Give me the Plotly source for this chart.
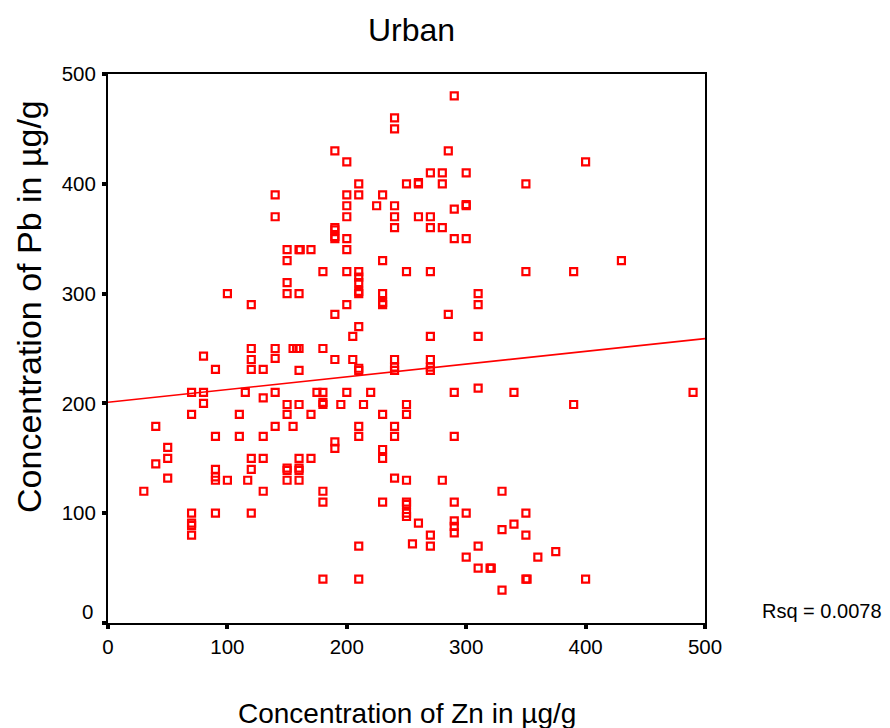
import plotly.graph_objects as go

# Data (Zn, Pb) in µg/g
zn = [290, 240, 240, 190, 285, 200, 400, 210, 250, 260, 260, 270, 280, 280, 300, 350,
      140, 200, 210, 230, 200, 225, 240, 290, 300, 300, 140, 200, 240, 260, 270,
      190, 190, 240, 270, 280, 190, 190, 200, 290, 300, 150, 160, 161, 170, 200,
      150, 230, 430, 180, 200, 210, 210, 210, 210, 210, 250, 270, 350, 390,
      150, 150, 160, 230, 310, 100, 120, 200, 230, 230, 310, 190, 285, 210, 205,
      270, 310, 120, 140, 155, 158, 160, 180, 80, 120, 140, 190, 205, 240, 270,
      90, 120, 130, 160, 210, 210, 240, 240, 270, 270,
      70, 80, 115, 140, 175, 180, 200, 220, 290, 310, 340, 490, 130, 80,
      150, 160, 180, 180, 195, 214, 250, 390, 70, 110, 150, 170, 230, 250,
      40, 140, 155, 210, 240, 90, 110, 130, 210, 240, 290, 190, 190, 50, 230,
      50, 230, 120, 130, 160, 170, 40, 90, 120, 150, 150, 160, 160,
      90, 90, 100, 117, 150, 160, 50, 240, 250, 280, 30, 130, 180, 330,
      180, 230, 250, 250, 290, 70, 90, 120, 300, 350, 250, 250, 70, 70,
      260, 290, 290, 290, 340, 330, 70, 270, 350, 270, 255, 210, 310,
      300, 360, 375, 310, 320, 321, 180, 210, 350, 351, 400, 330]
pb = [480, 460, 450, 430, 430, 420, 420, 400, 400, 400, 401, 410, 410, 400, 410, 400,
      390, 390, 390, 390, 380, 380, 380, 377, 380, 381, 370, 370, 370, 370, 370,
      360, 358, 360, 360, 360, 350, 352, 350, 350, 350, 340, 340, 340, 340, 340,
      330, 330, 330, 320, 320, 320, 315, 310, 300, 302, 320, 320, 320, 320,
      310, 300, 300, 300, 300, 300, 290, 290, 290, 292, 290, 281, 281, 270, 261,
      261, 261, 250, 250, 250, 250, 250, 250, 243, 240, 241, 240, 240, 240, 240,
      231, 231, 231, 230, 230, 232, 230, 233, 230, 233,
      210, 210, 210, 210, 210, 210, 210, 210, 210, 214, 210, 210, 205, 200,
      199, 199, 199, 201, 199, 199, 199, 199, 190, 190, 190, 190, 190, 190,
      179, 179, 179, 179, 179, 170, 170, 170, 170, 170, 170, 165, 159, 160, 158,
      150, 150, 150, 150, 150, 150, 145, 140, 140, 139, 141, 139, 141,
      133, 130, 130, 130, 130, 130, 132, 132, 130, 130, 120, 120, 120, 120,
      110, 110, 110, 108, 110, 100, 100, 100, 100, 100, 100, 97, 91, 89,
      91, 93, 88, 82, 90, 85, 80, 80, 80, 70, 72, 70, 70,
      60, 60, 65, 50, 50, 50, 40, 40, 40, 40, 40, 30]

# Linear fit line
fit_x = [0, 500]
fit_y = [201, 259]

x_ticks = [0, 100, 200, 300, 400, 500]
y_ticks = [0, 100, 200, 300, 400, 500]
y_tick_text = ["", "100", "200", "300", "400", "500"]

FONT = "Liberation Sans, Arial, sans-serif"
RED = "#ff0000"

fig = go.Figure()
fig.add_trace(go.Scatter(
    x=zn, y=pb, mode="markers",
    marker=dict(symbol="square-open", size=7, color=RED, line=dict(width=2.2, color=RED)),
    showlegend=False, hoverinfo="x+y"))
fig.add_trace(go.Scatter(
    x=fit_x, y=fit_y, mode="lines",
    line=dict(color=RED, width=1.6), showlegend=False, hoverinfo="skip"))

axis_common = dict(
    showgrid=False, zeroline=False, showline=True, linecolor="black", linewidth=2,
    mirror=True, ticks="outside", ticklen=4, tickwidth=4, tickcolor="black",
    tickfont=dict(family=FONT, size=20.5, color="black"))

fig.update_xaxes(range=[0, 500], tickvals=x_ticks, **axis_common)
fig.update_yaxes(range=[0, 500], tickvals=y_ticks, ticktext=y_tick_text,
                 ticklabelstandoff=2, **axis_common)

fig.update_layout(
    width=882, height=720,
    margin=dict(l=100, r=185, t=66, b=105),
    paper_bgcolor="white", plot_bgcolor="white",
    font=dict(family=FONT, color="black"),
    annotations=[
        dict(text="Urban", xref="paper", yref="paper", x=0.509, y=1.08,
             xanchor="center", yanchor="middle", showarrow=False,
             font=dict(size=32, family=FONT)),
        dict(text="Concentration of Zn in µg/g", xref="paper", yref="paper",
             x=0.5, y=-0.164, xanchor="center", yanchor="middle", showarrow=False,
             font=dict(size=28, family=FONT)),
        dict(text="Concentration of Pb in µg/g", xref="paper", yref="paper",
             x=-0.132, y=0.576, xanchor="center", yanchor="middle", showarrow=False,
             textangle=-90, font=dict(size=34, family=FONT)),
        dict(text="0", xref="paper", yref="y", x=0, y=0, xanchor="right",
             yanchor="middle", xshift=-13, yshift=12, showarrow=False,
             font=dict(size=20.5, family=FONT)),
        dict(text="Rsq = 0.0078", xref="paper", yref="paper", x=1.0, y=0.022,
             xanchor="left", yanchor="middle", xshift=55, showarrow=False,
             font=dict(size=20, family=FONT)),
    ],
)

fig.write_html("out.html")
